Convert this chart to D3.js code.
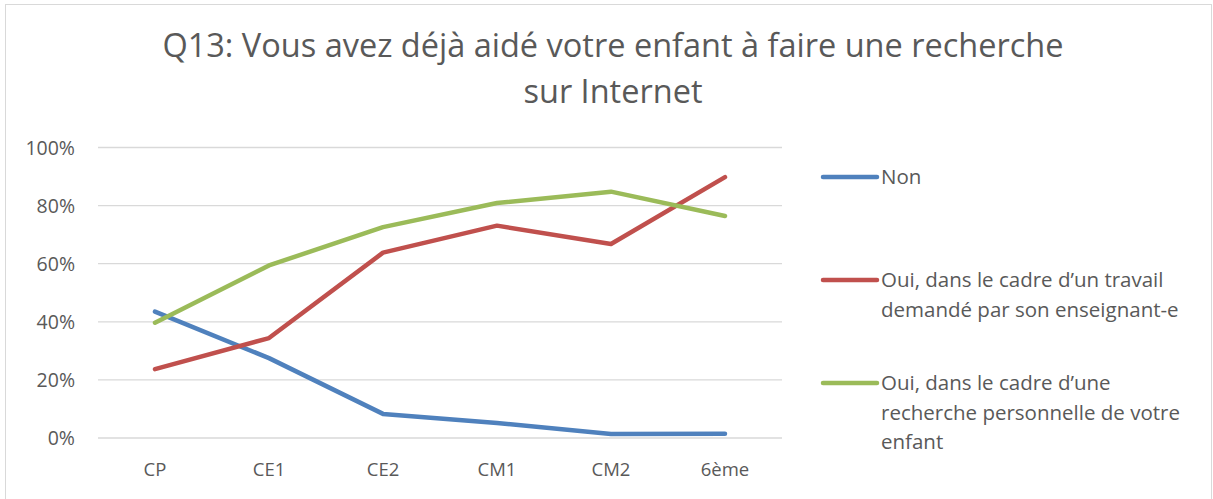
<!DOCTYPE html>
<html>
<head>
<meta charset="utf-8">
<script src="https://cdn.jsdelivr.net/npm/d3@7"></script>
<style>
  body { margin: 0; background: #fff; }
  text { font-family: "Open Sans", "Noto Sans", sans-serif; fill: #595959; }
</style>
</head>
<body>
<div id="chart"></div>
<script>
// data
var categories = ["CP", "CE1", "CE2", "CM1", "CM2", "6ème"];
var nonValues = [0.435, 0.275, 0.083, 0.052, 0.014, 0.015];
var travailValues = [0.237, 0.344, 0.638, 0.731, 0.668, 0.898];
var persoValues = [0.397, 0.594, 0.726, 0.809, 0.848, 0.764];
var yTicks = [0, 0.2, 0.4, 0.6, 0.8, 1];
var seriesNames = [
    ["Non"],
    ["Oui, dans le cadre d\u2019un travail", "demandé par son enseignant-e"],
    ["Oui, dans le cadre d\u2019une", "recherche personnelle de votre", "enfant"]
];
var titleLines = ["Q13: Vous avez déjà aidé votre enfant à faire une recherche", "sur Internet"];

var series = [
    { name: seriesNames[0], values: nonValues, color: "#4F81BD" },
    { name: seriesNames[1], values: travailValues, color: "#C0504D" },
    { name: seriesNames[2], values: persoValues, color: "#9BBB59" }
];

var width = 1213, height = 499;
var margin = { top: 147.5, left: 98, right: 431, bottom: 61 };

var svg = d3.select("#chart")
    .append("svg")
    .attr("width", width)
    .attr("height", height);

// chart frame
svg.append("rect")
    .attr("x", 5.5).attr("y", 4.5)
    .attr("width", 1206).attr("height", 500)
    .attr("fill", "#fff")
    .attr("stroke", "#d9d9d9");

// title
svg.append("text")
    .attr("text-anchor", "middle")
    .attr("font-size", 32.5)
    .selectAll("tspan")
    .data(titleLines)
    .join("tspan")
    .attr("x", 613)
    .attr("y", function(d, i) { return 57 + i * 46; })
    .text(function(d) { return d; });

var x = d3.scaleBand()
    .domain(categories)
    .range([margin.left, width - margin.right]);

var y = d3.scaleLinear()
    .domain([0, 1])
    .range([height - margin.bottom, margin.top]);

// gridlines
svg.append("g")
    .selectAll("line")
    .data(yTicks)
    .join("line")
    .attr("x1", margin.left)
    .attr("x2", width - margin.right)
    .attr("y1", function(d) { return y(d); })
    .attr("y2", function(d) { return y(d); })
    .attr("stroke", "#d9d9d9")
    .attr("stroke-width", 1.3);

// y axis labels
var yAxis = svg.append("g")
    .attr("transform", "translate(" + (margin.left - 20) + ",0)")
    .call(d3.axisLeft(y).tickValues(yTicks).tickFormat(d3.format(".0%")).tickSize(0));
yAxis.select(".domain").remove();
yAxis.selectAll("text")
    .attr("font-size", 19.5)
    .attr("font-family", null)
    .attr("fill", "#595959")
    .attr("dy", "0.35em");

// x axis labels
var xAxis = svg.append("g")
    .attr("transform", "translate(0," + (y(0) + 22) + ")")
    .call(d3.axisBottom(x).tickSize(0));
xAxis.select(".domain").remove();
xAxis.selectAll("text")
    .attr("font-size", 18.5)
    .attr("font-family", null)
    .attr("fill", "#595959")
    .attr("dy", "0.71em");

// lines
var line = d3.line()
    .x(function(d, i) { return x(categories[i]) + x.bandwidth() / 2; })
    .y(function(d) { return y(d); });

svg.append("g")
    .selectAll("path")
    .data(series)
    .join("path")
    .attr("d", function(d) { return line(d.values); })
    .attr("fill", "none")
    .attr("stroke", function(d) { return d.color; })
    .attr("stroke-width", 4.5)
    .attr("stroke-linecap", "round")
    .attr("stroke-linejoin", "round");

// legend
var legendY = [177, 280, 383];
var legend = svg.append("g")
    .selectAll("g")
    .data(series)
    .join("g")
    .attr("transform", function(d, i) { return "translate(823," + legendY[i] + ")"; });

legend.append("line")
    .attr("x1", 0).attr("x2", 54)
    .attr("stroke", function(d) { return d.color; })
    .attr("stroke-width", 4.5)
    .attr("stroke-linecap", "round");

legend.append("text")
    .attr("font-size", 20.5)
    .selectAll("tspan")
    .data(function(d) { return d.name; })
    .join("tspan")
    .attr("x", 58)
    .attr("y", function(d, i) { return i * 29.5; })
    .attr("dy", "0.35em")
    .text(function(d) { return d; });
</script>
</body>
</html>
